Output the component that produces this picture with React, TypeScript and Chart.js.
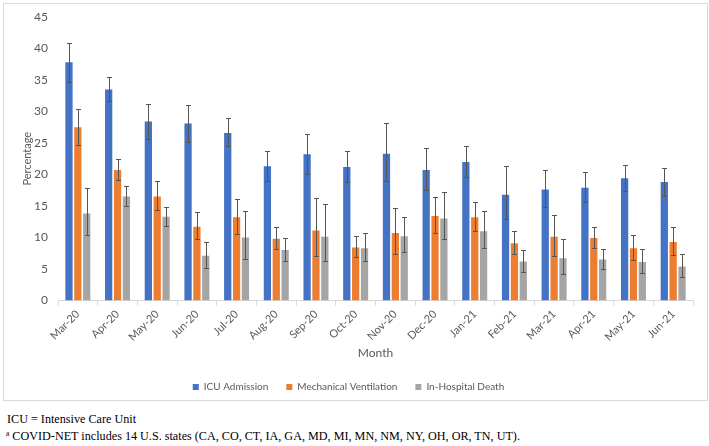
import React, { useEffect, useRef } from "react";
import { Chart, registerables } from "chart.js";

Chart.register(...registerables);

const months = ["Mar-20", "Apr-20", "May-20", "Jun-20", "Jul-20", "Aug-20", "Sep-20", "Oct-20", "Nov-20", "Dec-20", "Jan-21", "Feb-21", "Mar-21", "Apr-21", "May-21", "Jun-21"];

const icu = [37.8, 33.5, 28.4, 28.1, 26.6, 21.3, 23.2, 21.2, 23.3, 20.7, 22.0, 16.8, 17.6, 17.9, 19.4, 18.8];
const icuLo = [34.7, 31.7, 25.7, 25.1, 24.5, 18.9, 20.1, 18.8, 18.9, 17.5, 19.6, 12.9, 14.8, 15.6, 17.4, 16.6];
const icuHi = [40.9, 35.4, 31.2, 31.1, 28.9, 23.8, 26.4, 23.8, 28.1, 24.2, 24.6, 21.4, 20.7, 20.4, 21.5, 21.0];

const mv = [27.5, 20.7, 16.5, 11.7, 13.2, 9.8, 11.1, 8.4, 10.7, 13.4, 13.2, 9.1, 10.1, 9.9, 8.3, 9.3];
const mvLo = [24.7, 19.1, 14.3, 9.7, 10.6, 8.2, 7.0, 6.9, 7.4, 10.7, 11.0, 7.4, 7.1, 8.3, 6.4, 7.2];
const mvHi = [30.4, 22.4, 18.9, 14.0, 16.1, 11.7, 16.2, 10.3, 14.7, 16.5, 15.7, 11.0, 13.6, 11.7, 10.4, 11.6];

const death = [13.8, 16.5, 13.3, 7.1, 10.0, 8.0, 10.1, 8.3, 10.2, 13.0, 11.0, 6.2, 6.7, 6.5, 6.1, 5.4];
const deathLo = [10.4, 15.0, 11.8, 5.1, 6.6, 6.3, 6.2, 6.3, 7.7, 9.7, 8.3, 4.5, 4.2, 5.0, 4.3, 3.75];
const deathHi = [17.9, 18.2, 14.9, 9.3, 14.2, 9.9, 15.3, 10.7, 13.3, 17.2, 14.2, 8.0, 9.8, 8.2, 8.2, 7.3];

const seriesNames = ["ICU Admission", "Mechanical Ventilation", "In-Hospital Death"];
const seriesColors = ["#4472C4", "#ED7D31", "#A5A5A5"];
const lows = [icuLo, mvLo, deathLo];
const highs = [icuHi, mvHi, deathHi];

const FONT = "Lato, 'Open Sans', sans-serif";

const errorBarPlugin = {
  id: "errorBars",
  afterDatasetsDraw(chart: any) {
    const ctx = chart.ctx;
    const y = chart.scales.y;
    ctx.save();
    ctx.strokeStyle = "#555555";
    ctx.lineWidth = 1;
    chart.data.datasets.forEach((_ds: any, i: number) => {
      const meta = chart.getDatasetMeta(i);
      meta.data.forEach((el: any, j: number) => {
        const x = Math.round(el.x) + 0.5;
        const yl = Math.round(y.getPixelForValue(lows[i][j])) + 0.5;
        const yh = Math.round(y.getPixelForValue(highs[i][j])) + 0.5;
        ctx.beginPath();
        ctx.moveTo(x, yl);
        ctx.lineTo(x, yh);
        ctx.moveTo(x - 2.5, yl);
        ctx.lineTo(x + 2.5, yl);
        ctx.moveTo(x - 2.5, yh);
        ctx.lineTo(x + 2.5, yh);
        ctx.stroke();
      });
    });
    ctx.restore();
  },
};

function ChartBox() {
  const ref = useRef<HTMLCanvasElement | null>(null);
  useEffect(() => {
    if (!ref.current) return;
    const chart = new Chart(ref.current, {
      type: "bar",
      data: {
        labels: months,
        datasets: [icu, mv, death].map((d, i) => ({
          label: seriesNames[i],
          data: d,
          backgroundColor: seriesColors[i],
          borderWidth: 0,
          categoryPercentage: 0.67,
          barPercentage: 0.82,
        })),
      },
      options: {
        responsive: false,
        animation: false,
        devicePixelRatio: 1,
        layout: { padding: { left: 0, right: 14, top: 13, bottom: -2 } },
        plugins: {
          tooltip: { enabled: false },
          legend: {
            position: "bottom",
            labels: {
              boxWidth: 6,
              boxHeight: 6,
              color: "#595959",
              font: { family: FONT, size: 10 },
              padding: 18,
            },
          },
        },
        scales: {
          x: {
            grid: { display: true, drawOnChartArea: false, drawTicks: true, tickLength: 5, color: "#d9d9d9", offset: true },
            border: { display: true, color: "#d9d9d9" },
            ticks: { color: "#595959", font: { family: FONT, size: 11 }, minRotation: 45, maxRotation: 45, padding: 2 },
            title: { display: true, text: "Month", color: "#595959", font: { family: FONT, size: 12 }, padding: { top: 0, bottom: 4 } },
          },
          y: {
            min: 0,
            max: 45,
            afterFit: (s: any) => {
              s.width = 54;
              s.paddingTop = 0;
              s.paddingBottom = 0;
            },
            ticks: { stepSize: 5, color: "#595959", font: { family: FONT, size: 12 }, padding: 10 },
            grid: { display: false, drawTicks: false },
            border: { display: false },
            title: { display: true, text: "Percentage", color: "#595959", font: { family: FONT, size: 11 }, padding: { top: 17, bottom: 0 } },
          },
        },
      },
      plugins: [errorBarPlugin],
    });
    return () => chart.destroy();
  }, []);
  return (
    <div style={{ position: "absolute", left: 3, top: 3, width: 703, height: 396, border: "1px solid #d9d9d9", background: "#fff" }}>
      <canvas ref={ref} width={703} height={396} style={{ width: 703, height: 396, display: "block" }} />
    </div>
  );
}

const noteStyle: React.CSSProperties = {
  position: "absolute",
  left: 7,
  fontFamily: "'Liberation Serif', 'Times New Roman', serif",
  fontSize: 13,
  color: "#000",
  whiteSpace: "nowrap",
  lineHeight: "16px",
  transform: "scaleX(0.935)",
  transformOrigin: "left center",
};

export default function App() {
  useEffect(() => {
    document.body.style.margin = "0";
  }, []);
  return (
    <div style={{ position: "relative", width: 709, height: 446, background: "#fff" }}>
      <ChartBox />
      <div style={{ ...noteStyle, top: 411 }}>ICU = Intensive Care Unit</div>
      <div style={{ ...noteStyle, top: 426, left: 6 }}>
        <sup style={{ fontSize: 8, verticalAlign: "4px" }}>a</sup> COVID-NET includes 14 U.S. states (CA, CO, CT, IA, GA, MD, MI, MN, NM, NY, OH, OR, TN, UT).
      </div>
    </div>
  );
}
